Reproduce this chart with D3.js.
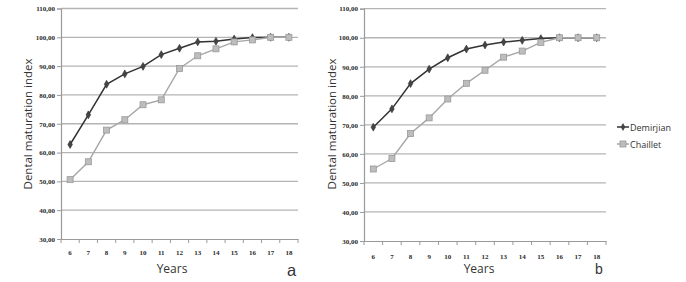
<!DOCTYPE html>
<html><head><meta charset="utf-8">
<script src="https://cdn.jsdelivr.net/npm/d3@7"></script>
<style>body{margin:0;background:#fff}svg{display:block}</style>
</head><body>
<script>
const years = [6,7,8,9,10,11,12,13,14,15,16,17,18];
const yTicks = [30,40,50,60,70,80,90,100,110];
const seriesNames = ["Demirjian","Chaillet"];
const demirjianA = [62.8,73.1,83.7,87.3,89.9,94.0,96.2,98.4,98.6,99.4,99.9,100,100];
const chailletA  = [50.6,56.8,67.8,71.4,76.6,78.3,89.2,93.6,96.0,98.4,99.1,100,100];
const demirjianB = [69.2,75.5,84.2,89.2,93.1,96.1,97.5,98.5,99.1,99.7,100,100,100];
const chailletB  = [54.8,58.4,67.0,72.4,78.9,84.3,88.8,93.3,95.4,98.4,100,100,100];
const panelLetters = ["a","b"];

const W=686,H=282;
const svg=d3.select("body").append("svg").attr("width",W).attr("height",H);
const fmt=v=>d3.format(".2f")(v).replace(".",",");
const sans="'Open Sans','Noto Sans',sans-serif";
const letterFont="'Liberation Sans',Arial,sans-serif";

const panels=[
 {l:61,r:298,t:8.5,b:239,tickY:252.5,yearsX:172,yearsY:273.3,titleX:27,letterX:291.5,letterY:275.5,letterSize:16.5,dem:demirjianA,cha:chailletA,letter:panelLetters[0]},
 {l:364,r:606,t:8.7,b:241,tickY:256.2,yearsX:479,yearsY:273.3,titleX:331,letterX:599,letterY:273.6,letterSize:14,dem:demirjianB,cha:chailletB,letter:panelLetters[1]}
];

panels.forEach(p=>{
  const g=svg.append("g");
  const x=d3.scaleBand().domain(years).range([p.l,p.r]);
  const y=d3.scaleLinear().domain([30,110]).range([p.b,p.t]);
  // gridlines
  g.selectAll(".grid").data(yTicks.filter(v=>v>30)).join("line")
    .attr("x1",p.l).attr("x2",p.r).attr("y1",d=>y(d)).attr("y2",d=>y(d))
    .attr("stroke","#b4b4b4").attr("stroke-width",1.3);
  // y axis
  const ya=g.append("g").attr("transform",`translate(${p.l},0)`)
    .call(d3.axisLeft(y).tickValues(yTicks).tickFormat(fmt).tickSize(4).tickPadding(2));
  ya.select(".domain").attr("stroke","#9a9a9a").attr("stroke-width",1.2);
  ya.selectAll(".tick line").attr("stroke","#9a9a9a");
  ya.selectAll("text").attr("font-family","'Liberation Serif',serif").attr("font-weight","bold")
    .attr("font-size",7).attr("fill","#2a2a2a");
  // x axis
  const xa=g.append("g").attr("transform",`translate(0,${p.b})`)
    .call(d3.axisBottom(x).tickSize(0).tickPadding(0));
  xa.select(".domain").attr("stroke","#9a9a9a").attr("stroke-width",1.2);
  xa.selectAll(".tick text").attr("y",p.tickY-p.b).attr("dy","0.35em")
    .attr("font-family","'Liberation Serif',serif").attr("font-weight","bold")
    .attr("font-size",7).attr("fill","#2a2a2a");
  // band boundary ticks
  g.selectAll(".bt").data(years.concat([null])).join("line")
    .attr("x1",(d,i)=>p.l+i*x.step()).attr("x2",(d,i)=>p.l+i*x.step())
    .attr("y1",p.b).attr("y2",p.b+4).attr("stroke","#9a9a9a");
  // labels
  g.append("text").attr("x",p.yearsX).attr("y",p.yearsY).attr("text-anchor","middle")
    .attr("font-family",sans).attr("font-size",12)
    .attr("fill","#333").text("Years");
  g.append("text").attr("transform",`translate(${p.titleX},124) rotate(-90)`)
    .attr("text-anchor","middle").attr("dominant-baseline","central")
    .attr("font-family",sans).attr("font-size",11.5).attr("fill","#333").text("Dental maturation index");
  g.append("text").attr("x",p.letterX).attr("y",p.letterY).attr("text-anchor","middle")
    .attr("font-family",letterFont).attr("font-size",p.letterSize)
    .attr("fill","#333").text(p.letter);
  const line=d3.line().x((d,i)=>x(years[i])+x.bandwidth()/2).y(d=>y(d));
  // Demirjian
  g.append("path").datum(p.dem).attr("d",line).attr("fill","none").attr("stroke","#333").attr("stroke-width",1.5);
  g.selectAll(".dm").data(p.dem).join("path")
    .attr("transform",(d,i)=>`translate(${x(years[i])+x.bandwidth()/2},${y(d)})`)
    .attr("d",d3.symbol(d3.symbolDiamond,18)).attr("fill","#444").attr("stroke","#333").attr("stroke-width",0.6);
  // Chaillet
  g.append("path").datum(p.cha).attr("d",line).attr("fill","none").attr("stroke","#a6a6a6").attr("stroke-width",1.4);
  g.selectAll(".cm").data(p.cha).join("rect")
    .attr("x",(d,i)=>x(years[i])+x.bandwidth()/2-3).attr("y",d=>y(d)-3)
    .attr("width",6).attr("height",6).attr("fill","#bdbdbd").attr("stroke","#999").attr("stroke-width",0.8);
});

// legend
const lg=svg.append("g");
const legY=[127,144];
seriesNames.forEach((n,i)=>{
  const yy=legY[i];
  lg.append("line").attr("x1",617).attr("x2",629).attr("y1",yy).attr("y2",yy)
    .attr("stroke",i?"#a6a6a6":"#333").attr("stroke-width",1.5);
  if(i===0) lg.append("path").attr("transform",`translate(623,${yy})`)
    .attr("d",d3.symbol(d3.symbolDiamond,18)).attr("fill","#444");
  else lg.append("rect").attr("x",620).attr("y",yy-3).attr("width",6).attr("height",6)
    .attr("fill","#bdbdbd").attr("stroke","#999").attr("stroke-width",0.8);
  lg.append("text").attr("x",630).attr("y",yy).attr("dominant-baseline","central")
    .attr("font-family",sans).attr("font-size",9).attr("fill","#333").text(n);
});
</script>
</body></html>
